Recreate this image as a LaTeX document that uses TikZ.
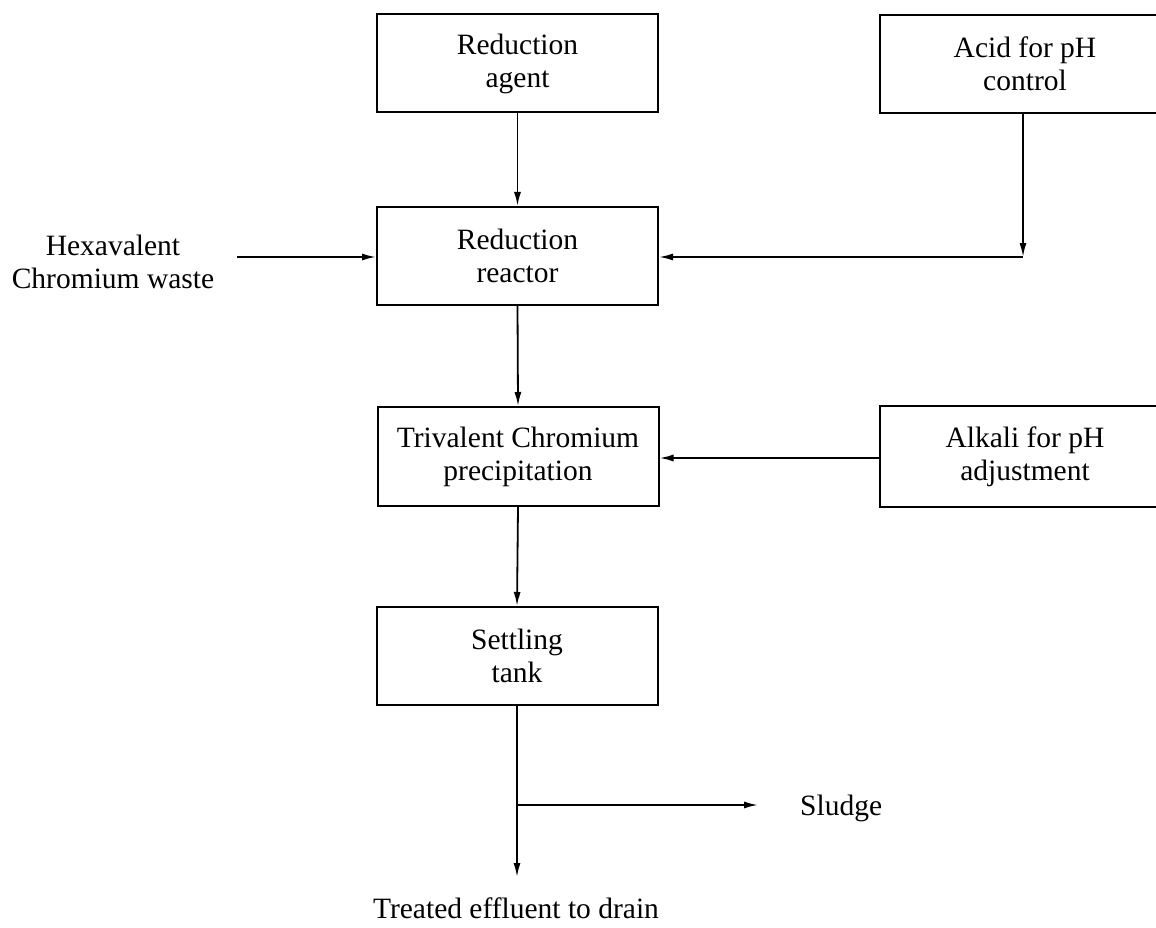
\documentclass[tikz,border=0pt]{standalone}
\usepackage{fontspec}
\setmainfont{Liberation Serif}
\usetikzlibrary{arrows.meta}
\begin{document}
\begin{tikzpicture}[x=1pt,y=-1pt,
  every node/.style={font=\fontsize{29.5}{33}\selectfont, align=center, inner sep=0pt},
  procbox/.style={draw, line width=2pt, minimum width=281pt, minimum height=98pt},
  sidebox/.style={draw, line width=2pt, minimum width=290pt, minimum height=98pt},
  flow/.style={line width=1.8pt, -{Latex[length=14pt,width=7pt]}}]
\useasboundingbox (0,0) rectangle (1156,928);
\fill[white] (0,0) rectangle (1156,928);
\node[procbox] (agent) at (517.5,63.5) {Reduction\\agent};
\node[sidebox] (acid) at (1025,64) {Acid for pH\\control};
\node[procbox] (reactor) at (517.5,256) {Reduction\\reactor};
\node[procbox, minimum height=99pt] (triv) at (518,456.5) {Trivalent Chromium\\precipitation};
\node[sidebox, minimum height=101pt] (alkali) at (1025,456.5) {Alkali for pH\\adjustment};
\node[procbox] (settle) at (517,656) {Settling\\tank};
\node (hex) at (113,262) {Hexavalent\\Chromium waste};
\node[anchor=west] (sludge) at (800,808) {Sludge};
\node (treated) at (516,908) {Treated effluent to drain};
\coordinate (hexout) at (237,257);
\coordinate (acidturn) at (1023,257);
\coordinate (drain) at (517,877);
\coordinate (branch) at (517,805);
\coordinate (sludgein) at (758,805);
\draw[flow] (agent.south) -- (reactor.north);
\draw[flow] (acid.south -| acidturn) -- (acidturn);
\draw[flow] (acidturn) -- (reactor.east |- acidturn);
\draw[flow] (hexout) -- (reactor.west |- hexout);
\draw[flow] (reactor.south) -- (triv.north);
\draw[flow] (alkali.west |- 0,458) -- (triv.east |- 0,458);
\draw[flow] (triv.south) -- (settle.north);
\draw[flow] (settle.south) -- (drain);
\draw[flow] (branch) -- (sludgein);
\end{tikzpicture}
\end{document}
